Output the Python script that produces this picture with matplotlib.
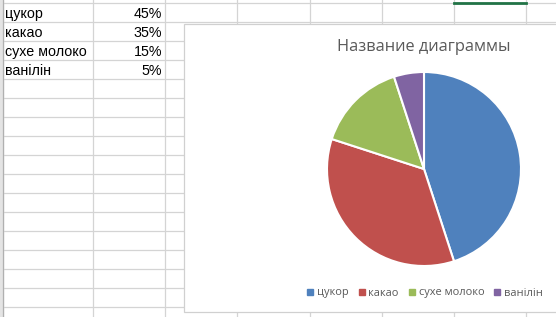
import matplotlib
matplotlib.use("Agg")
import matplotlib.pyplot as plt
from matplotlib.patches import Rectangle
from matplotlib.lines import Line2D

categories = ["цукор", "какао", "сухе молоко", "ванілін"]
values = [45, 35, 15, 5]
value_labels = ["45%", "35%", "15%", "5%"]
colors = ["#4F81BD", "#C0504D", "#9BBB59", "#8064A2"]
title = "Название диаграммы"

W, H = 556, 317
fig = plt.figure(figsize=(W / 100, H / 100), dpi=100)
bg = fig.add_axes([0, 0, 1, 1])
bg.set_xlim(0, W)
bg.set_ylim(H, 0)
bg.axis("off")

grid_c = "#D4D4D4"
# spreadsheet grid
for y in [3 + 19 * k for k in range(17)]:
    bg.plot([3, W], [y, y], color=grid_c, lw=0.9, zorder=1)
for x in [93, 165, 237, 310, 382, 454, 526]:
    bg.plot([x, x], [0, H], color=grid_c, lw=0.9, zorder=1)
# row header strip
bg.add_patch(Rectangle((0, 0), 3, H, color="#E4E4E4", zorder=2))
bg.plot([3, 3], [0, H], color="#B0B0B0", lw=0.9, zorder=2)
# active cell hint
bg.plot([454, 526], [3, 3], color="#217346", lw=2, zorder=3)

# table cells
for i, (c, v) in enumerate(zip(categories, value_labels)):
    yc = 14 + 19 * i
    bg.text(5, yc, c, ha="left", va="center", fontsize=10.3,
            family="Liberation Sans", color="black", zorder=3)
    bg.text(162, yc, v, ha="right", va="center", fontsize=10.3,
            family="Liberation Sans", color="black", zorder=3)

# chart area
bg.add_patch(Rectangle((184, 24), W - 184 + 5, 312 - 24, facecolor="white",
                       edgecolor="#D0D0D0", lw=0.9, zorder=4))
bg.text(424, 47, title, ha="center", va="center", fontsize=11.8,
        family="Open Sans", color="#595959", zorder=5)

cx, cy, r = 424, 169, 97
pax = fig.add_axes([(cx - r) / W, 1 - (cy + r) / H, 2 * r / W, 2 * r / H])
pax.set_zorder(5)
wedges, _ = pax.pie(values, colors=colors, startangle=90, counterclock=False,
                    wedgeprops=dict(edgecolor="white", linewidth=1.5))
pax.set_xlim(-1.0, 1.0)
pax.set_ylim(-1.0, 1.0)
pax.set_aspect("equal")
pax.axis("off")

handles = [Line2D([], [], marker="s", linestyle="none", markersize=4.5,
                  markerfacecolor=col, markeredgecolor=col) for col in colors]
leg = fig.legend(handles, categories, loc="center",
                 bbox_to_anchor=(425 / W, 1 - 293 / H), ncol=4, frameon=False,
                 handlelength=0.6, handletextpad=0.3, columnspacing=0.9,
                 prop={"family": "Open Sans", "size": 7.9})
for t in leg.get_texts():
    t.set_color("#595959")

fig.savefig("out.png", dpi=100)
